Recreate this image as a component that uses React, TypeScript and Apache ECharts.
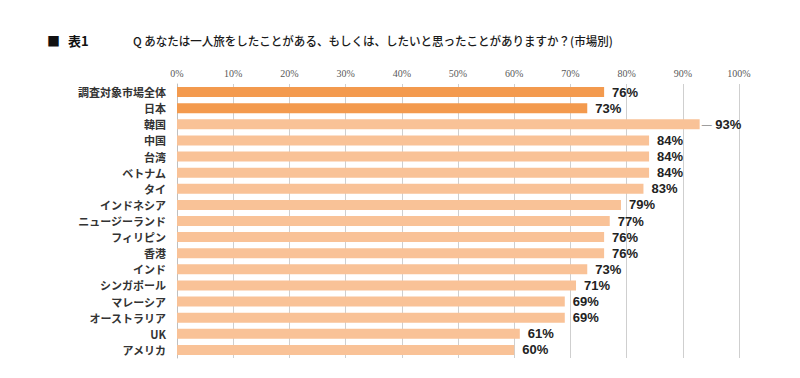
import React, { useEffect, useRef } from "react";
import * as echarts from "echarts";

const categories = [
  "調査対象市場全体", "日本", "韓国", "中国", "台湾", "ベトナム", "タイ", "インドネシア",
  "ニュージーランド", "フィリピン", "香港", "インド", "シンガポール", "マレーシア",
  "オーストラリア", "UK", "アメリカ",
];
const values = [76, 73, 93, 84, 84, 84, 83, 79, 77, 76, 76, 73, 71, 69, 69, 61, 60];
const highlighted = ["調査対象市場全体", "日本"];
const leaderLineCategory = "韓国";
const titleLabel = "表1";
const questionText = "Q あなたは一人旅をしたことがある、もしくは、したいと思ったことがありますか？(市場別)";

export default function App() {
  const ref = useRef<HTMLDivElement>(null);
  useEffect(() => {
    if (!ref.current) return;
    const chart = echarts.init(ref.current, null, { renderer: "svg" });
    const data = values.map((v, i) => ({
      value: v,
      itemStyle: { color: highlighted.includes(categories[i]) ? "#F39A4E" : "#F9C297" },
      label: categories[i] === leaderLineCategory ? { distance: 2 } : undefined,
    }));
    chart.setOption({
      animation: false,
      backgroundColor: "#ffffff",
      graphic: [
        { type: "text", left: 47, top: 34, style: { text: "■", fontSize: 13, fill: "#111", fontFamily: "Noto Sans CJK JP" } },
        { type: "text", left: 68, top: 34, style: { text: titleLabel, fontSize: 13, fontWeight: "bold", fill: "#111", fontFamily: "Noto Sans CJK JP" } },
        {
          type: "text",
          x: 133,
          y: 34,
          scaleX: 0.96,
          style: { text: questionText, fontSize: 12, fill: "#1a1a1a", fontFamily: "Noto Sans CJK JP", fontWeight: 500 },
        },
      ],
      grid: { left: 177, right: 61, top: 84, bottom: 20, containLabel: false },
      xAxis: {
        type: "value",
        position: "top",
        min: 0,
        max: 100,
        interval: 10,
        axisLabel: { formatter: "{value}%", color: "#595959", fontSize: 10, fontFamily: "Liberation Sans Narrow", margin: 6 },
        axisLine: { show: false },
        axisTick: { show: false },
        splitLine: { lineStyle: { color: "#CFCFCF", width: 1 } },
      },
      yAxis: {
        type: "category",
        data: categories,
        inverse: true,
        axisLine: { lineStyle: { color: "#BFBFBF" } },
        axisTick: { show: false },
        axisLabel: {
          interval: 0,
          color: "#333",
          fontSize: 11,
          fontWeight: "bold",
          fontFamily: "Noto Sans CJK JP",
          margin: 11,
        },
      },
      series: [
        {
          type: "bar",
          data,
          barWidth: 10,
          label: {
            show: true,
            position: "right",
            distance: 8,
            formatter: (p: any) =>
              categories[p.dataIndex] === leaderLineCategory ? "{l|—} " + p.value + "%" : p.value + "%",
            color: "#222",
            fontSize: 13,
            fontWeight: "bold",
            fontFamily: "Liberation Sans",
            rich: { l: { color: "#888", fontSize: 10, fontWeight: "normal", fontFamily: "Liberation Sans" } },
          },
        },
      ],
    });
    return () => chart.dispose();
  }, []);
  return <div ref={ref} style={{ position: "fixed", left: 0, top: 0, width: 800, height: 378 }} />;
}
